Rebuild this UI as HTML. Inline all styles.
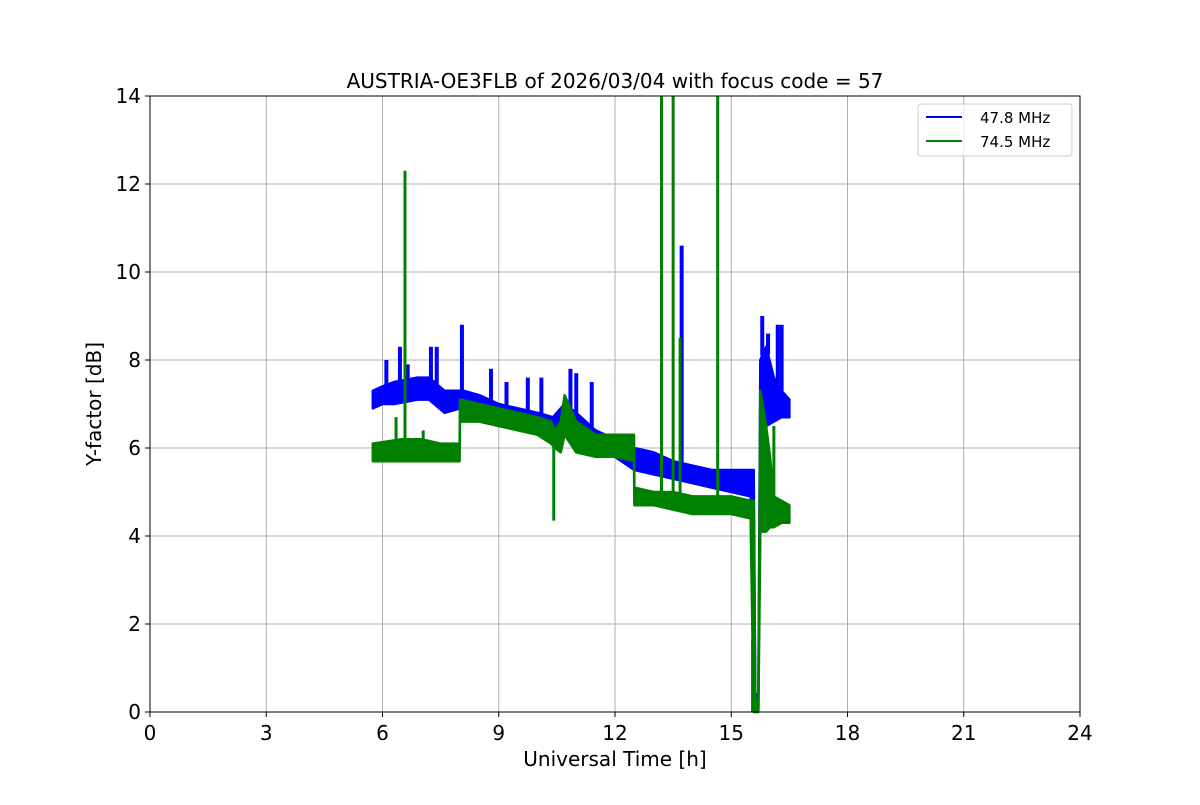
<!DOCTYPE html>
<html><head><meta charset="utf-8"><style>
body{margin:0;background:#fff;font-family:"Liberation Sans","DejaVu Sans",sans-serif}
svg text{font-family:"DejaVu Sans","Liberation Sans",sans-serif}
</style></head><body>
<svg id="c" width="1200" height="800" xmlns="http://www.w3.org/2000/svg"></svg>
<script>
const xTicks=[0,3,6,9,12,15,18,21,24];
const yTicks=[0,2,4,6,8,10,12,14];
const blueT =[5.75,6.0,6.3,6.9,7.2,7.6,8.0,8.1,8.5,9.0,9.5,10.0,10.4,10.7,11.0,11.5,12.0,12.5,13.0,13.5,14.0,14.5,15.0,15.5,15.58,15.62,15.7,15.75,15.9,16.1,16.3,16.5];
const blueLo=[6.9,7.0,7.0,7.1,7.1,6.8,6.9,6.8,6.8,6.7,6.6,6.5,6.3,6.4,6.0,5.9,5.8,5.5,5.4,5.3,5.2,5.1,5.0,4.9,0.1,0.1,0.1,6.3,6.5,6.6,6.7,6.7];
const blueHi=[7.3,7.4,7.5,7.6,7.6,7.3,7.3,7.3,7.2,7.0,6.9,6.8,6.7,7.0,6.8,6.4,6.2,6.0,5.9,5.7,5.6,5.5,5.5,5.5,5.5,0.4,0.4,8.0,8.3,7.6,7.3,7.1];
const greenT =[5.75,6.5,7.0,7.5,7.99,8.0,8.5,9.0,9.5,10.0,10.35,10.45,10.6,10.7,11.0,11.5,12.0,12.49,12.5,13.0,13.5,14.0,14.5,15.0,15.5,15.58,15.62,15.7,15.75,15.9,16.0,16.1,16.3,16.5];
const greenLo=[5.7,5.7,5.7,5.7,5.7,6.6,6.6,6.5,6.4,6.3,6.1,6.0,5.9,6.3,5.9,5.8,5.8,5.7,4.7,4.7,4.6,4.5,4.5,4.5,4.4,0.0,0.0,0.0,4.1,4.1,4.2,4.2,4.3,4.3];
const greenHi=[6.1,6.2,6.2,6.1,6.1,7.1,7.0,6.9,6.8,6.7,6.6,6.4,6.6,7.2,6.6,6.3,6.3,6.3,5.1,5.0,5.0,4.9,4.9,4.9,4.8,4.8,0.3,0.3,7.3,6.5,5.8,4.9,4.8,4.7];
const blueSpikeT=[6.1,6.45,6.65,7.25,7.4,8.05,8.8,9.2,9.75,10.1,10.85,11.0,11.4,13.72,15.8,15.95,16.2,16.3];
const blueSpikeV=[8.0,8.3,7.9,8.3,8.3,8.8,7.8,7.5,7.6,7.6,7.8,7.7,7.5,10.6,9.0,8.6,8.8,8.8];
const greenSpikeT=[6.35,6.58,7.05,10.42,13.2,13.5,13.68,14.65,15.55,16.1];
const greenSpikeV=[6.7,12.3,6.4,4.35,14,14,8.5,14,0.0,6.5];
const X0=150,X1=1080,Y0=712,Y1=96;
const sx=t=>X0+(t/24)*(X1-X0), sy=v=>Y0-(v/14)*(Y0-Y1);
const svg=document.getElementById('c');const NS='http://www.w3.org/2000/svg';
function mk(tag,a,p){const e=document.createElementNS(NS,tag);for(const k in a)e.setAttribute(k,a[k]);(p||svg).appendChild(e);return e;}
xTicks.forEach(t=>{const g=mk('line',{x1:sx(t),x2:sx(t),y1:Y1,y2:Y0,stroke:'#b0b0b0','stroke-width':1});


mk('line',{x1:sx(t),x2:sx(t),y1:Y0,y2:Y0+5,stroke:'#000'});
const l=mk('text',{x:sx(t),y:Y0+28,'text-anchor':'middle','font-size':20});l.textContent=t;

});
yTicks.forEach(v=>{const g=mk('line',{x1:X0,x2:X1,y1:sy(v),y2:sy(v),stroke:'#b0b0b0','stroke-width':1});


mk('line',{x1:X0-5,x2:X0,y1:sy(v),y2:sy(v),stroke:'#000'});
const l=mk('text',{x:X0-9,y:sy(v)+7,'text-anchor':'end','font-size':20});l.textContent=v;

});
function band(T,L,H,col,name){let pts=T.map((t,i)=>sx(t)+','+sy(H[i]));for(let i=T.length-1;i>=0;i--)pts.push(sx(T[i])+','+sy(L[i]));
const p=mk('polygon',{points:pts.join(' '),fill:col,stroke:col,'stroke-width':2.5,'stroke-linejoin':'round'});

}
function spikes(T,V,base,col,name,w){T.forEach((t,i)=>{const b=base(t);const l=mk('line',{x1:sx(t),x2:sx(t),y1:sy(b),y2:sy(V[i]),stroke:col,'stroke-width':w});

});}
function interp(T,A,t){for(let i=0;i<T.length-1;i++)if(t>=T[i]&&t<=T[i+1])return A[i]+(A[i+1]-A[i])*(t-T[i])/(T[i+1]-T[i]);return A[0];}
band(blueT,blueLo,blueHi,'#0000ff','series-47-8-mhz');
spikes(blueSpikeT,blueSpikeV,t=>interp(blueT,blueHi,t),'#0000ff','spike-47-8-mhz',4);
band(greenT,greenLo,greenHi,'#008000','series-74-5-mhz');
spikes(greenSpikeT,greenSpikeV,t=>interp(greenT,greenLo,t),'#008000','spike-74-5-mhz',3);
const fr=mk('rect',{x:X0,y:Y1,width:X1-X0,height:Y0-Y1,fill:'none',stroke:'#000','stroke-width':1});


</script>
<svg style="position:absolute;left:0;top:0" width="1200" height="800">
<text x="615" y="88" text-anchor="middle" font-size="20">AUSTRIA-OE3FLB of 2026/03/04 with focus code = 57</text>
<text x="615" y="766" text-anchor="middle" font-size="20">Universal Time [h]</text>
<text transform="translate(101,404) rotate(-90)" text-anchor="middle" font-size="20">Y-factor [dB]</text>
<g>
<rect x="918" y="104" width="154" height="52" rx="3" fill="#fff" fill-opacity="0.8" stroke="#ccc"/>
<line x1="926" x2="962" y1="117" y2="117" stroke="#0000ff" stroke-width="2"/>
<text x="980" y="123" font-size="15">47.8 MHz</text>
<line x1="926" x2="962" y1="141" y2="141" stroke="#008000" stroke-width="2"/>
<text x="980" y="147" font-size="15">74.5 MHz</text>
</g>
</svg>
</body></html>
